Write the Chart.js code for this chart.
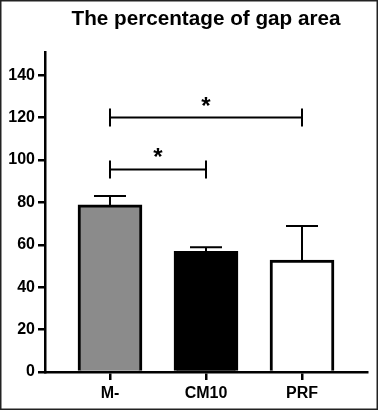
<!DOCTYPE html>
<html>
<head>
<meta charset="utf-8">
<script src="https://cdn.jsdelivr.net/npm/chart.js@4/dist/chart.umd.min.js"></script>
<style>
  html, body { margin: 0; padding: 0; background: #fff; }
  #wrap { width: 378px; height: 410px; position: relative; }
  canvas { display: block; }
</style>
</head>
<body>
<div id="wrap"><canvas id="c" width="378" height="410"></canvas></div>
<script>
// ---- data ----
const titleText = 'The percentage of gap area';
const categories = ['M-', 'CM10', 'PRF'];
const means = [78.8, 56.9, 52.8];
const errUpper = [83.0, 58.8, 68.8];
const barColors = ['#8b8b8b', '#000000', '#ffffff'];
const yTicks = [0, 20, 40, 60, 80, 100, 120, 140];
const compFrom = [0, 0];
const compTo = [1, 2];
const compY = [95.5, 120];
const compLabel = ['*', '*'];

const FONT = '"Liberation Sans", Arial, Helvetica, sans-serif';

const overlay = {
  id: 'overlay',
  beforeDraw(chart) {
    const ctx = chart.ctx;
    ctx.save();
    ctx.fillStyle = '#fff';
    ctx.fillRect(0, 0, chart.width, chart.height);
    ctx.restore();
  },
  afterDraw(chart) {
    const ctx = chart.ctx;
    const xs = chart.scales.x, ys = chart.scales.y;
    const area = chart.chartArea;
    ctx.save();
    // frame
    ctx.strokeStyle = '#222';
    ctx.lineWidth = 1.5;
    ctx.strokeRect(0.75, 0.75, chart.width - 1.5, chart.height - 1.5);
    // title
    ctx.fillStyle = '#000';
    ctx.font = 'bold 20.7px ' + FONT;
    ctx.textAlign = 'center';
    ctx.textBaseline = 'alphabetic';
    ctx.fillText(titleText, (area.left + area.right) / 2, 25);
    // error bars (upper whisker)
    ctx.strokeStyle = '#000';
    ctx.lineWidth = 2;
    means.forEach((m, i) => {
      const x = xs.getPixelForValue(i);
      const y0 = ys.getPixelForValue(m);
      const y1 = ys.getPixelForValue(errUpper[i]);
      ctx.beginPath();
      ctx.moveTo(x, y0);
      ctx.lineTo(x, y1);
      ctx.moveTo(x - 16, y1);
      ctx.lineTo(x + 16, y1);
      ctx.stroke();
    });
    // significance brackets
    ctx.lineWidth = 2;
    ctx.font = 'bold 24px ' + FONT;
    compY.forEach((v, k) => {
      const xa = xs.getPixelForValue(compFrom[k]);
      const xb = xs.getPixelForValue(compTo[k]);
      const y = ys.getPixelForValue(v);
      ctx.beginPath();
      ctx.moveTo(xa, y); ctx.lineTo(xb, y);
      ctx.moveTo(xa, y - 9); ctx.lineTo(xa, y + 9);
      ctx.moveTo(xb, y - 9); ctx.lineTo(xb, y + 9);
      ctx.stroke();
      ctx.fillText(compLabel[k], (xa + xb) / 2, y - 4);
    });
    ctx.restore();
  }
};

new Chart(document.getElementById('c'), {
  type: 'bar',
  data: {
    datasets: [{
      data: categories.map((c, i) => ({ x: i, y: means[i] })),
      backgroundColor: barColors,
      borderColor: '#000',
      borderWidth: 3,
      borderSkipped: 'start',
      barThickness: 64
    }]
  },
  options: {
    responsive: false,
    animation: false,
    devicePixelRatio: 1,
    layout: { padding: { left: 0, right: 11, top: 52, bottom: 0 } },
    plugins: { legend: { display: false }, tooltip: { enabled: false }, title: { display: false } },
    scales: {
      x: {
        type: 'linear',
        offset: false,
        min: -0.677,
        max: 2.677,
        afterBuildTicks(s) { s.ticks = categories.map((c, i) => ({ value: i })); },
        afterFit(s) { s.height = 38; },
        border: { display: true, color: '#000', width: 2.5 },
        grid: { display: true, offset: false, drawOnChartArea: false, drawTicks: true, tickLength: 8, color: '#000', lineWidth: 2.5 },
        ticks: {
          color: '#000',
          padding: 4,
          font: { family: FONT, size: 16, weight: 'bold' },
          callback: (v) => categories[v]
        }
      },
      y: {
        min: 0,
        max: 150.9,
        afterBuildTicks(s) { s.ticks = yTicks.map(v => ({ value: v })); },
        afterFit(s) { s.width = 45; },
        border: { display: true, color: '#000', width: 2.5 },
        grid: { display: true, drawOnChartArea: false, drawTicks: true, tickLength: 7, color: '#000', lineWidth: 2.5 },
        ticks: {
          color: '#000',
          padding: 3,
          font: { family: FONT, size: 16, weight: 'bold' }
        }
      }
    }
  },
  plugins: [overlay]
});
</script>
</body>
</html>
